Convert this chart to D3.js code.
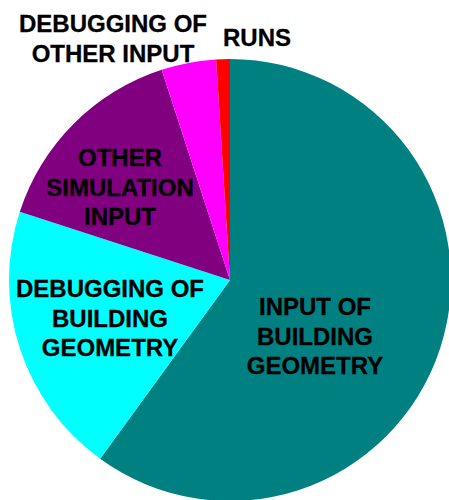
<!DOCTYPE html>
<html>
<head>
<meta charset="utf-8">
<script src="https://cdn.jsdelivr.net/npm/d3@7"></script>
<style>
  html, body { margin: 0; padding: 0; background: #fff; }
  svg { display: block; }
  .lbl { font-family: "Liberation Sans", Arial, sans-serif; font-weight: bold; font-size: 24px; fill: #000; stroke: #000; stroke-width: 0.3px; }
</style>
</head>
<body>
<svg id="chart"></svg>
<script>
// slices, clockwise from 12 o'clock
const categories = ["INPUT OF BUILDING GEOMETRY", "DEBUGGING OF BUILDING GEOMETRY", "OTHER SIMULATION INPUT", "DEBUGGING OF OTHER INPUT", "RUNS"];
const values = [60, 20, 15, 4, 1];
const colors = ["#008080", "#00ffff", "#800080", "#ff00ff", "#ff0000"];
const labelLines = [
  ["INPUT OF", "BUILDING", "GEOMETRY"],
  ["DEBUGGING OF", "BUILDING", "GEOMETRY"],
  ["OTHER", "SIMULATION", "INPUT"],
  ["DEBUGGING OF", "OTHER INPUT"],
  ["RUNS"]
];

const width = 449, height = 500;
const cx = 230, cy = 280, radius = 221;
const lineH = 29.5;
// first-line baseline positions of the labels (relative to pie centre)
const labelPos = [
  [85, 35], [-120, 17], [-110, -114], [-117, -248], [27, -234]
];

const svg = d3.select("#chart")
  .attr("width", width)
  .attr("height", height);

const g = svg.append("g")
  .attr("transform", `translate(${cx},${cy})`);

const pie = d3.pie().sort(null).value(d => d);
const arc = d3.arc().innerRadius(0).outerRadius(radius);

g.selectAll("path")
  .data(pie(values))
  .join("path")
  .attr("fill", (d, i) => colors[i])
  .attr("d", arc);

const labels = g.selectAll("text.lbl")
  .data(categories)
  .join("text")
  .attr("class", "lbl")
  .attr("text-anchor", "middle")
  .attr("x", (d, i) => labelPos[i][0])
  .attr("y", (d, i) => labelPos[i][1]);

labels.each(function (d, i) {
  d3.select(this).selectAll("tspan")
    .data(labelLines[i])
    .join("tspan")
    .attr("x", labelPos[i][0])
    .attr("dy", (t, j) => j === 0 ? 0 : lineH)
    .text(t => t);
});
</script>
</body>
</html>
